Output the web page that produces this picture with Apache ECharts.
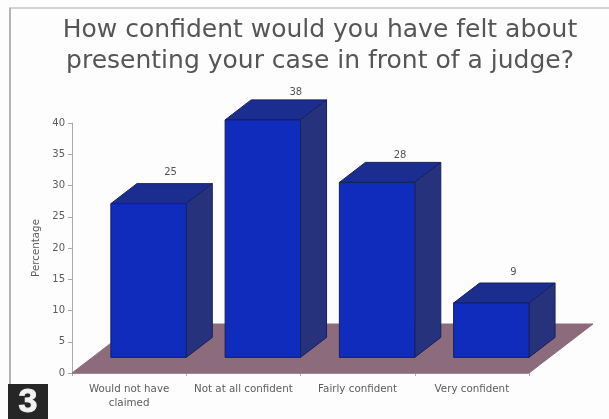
<!DOCTYPE html>
<html><head><meta charset="utf-8">
<style>html,body{margin:0;padding:0;background:#fff}#c{width:609px;height:419px;filter:blur(0.6px)}</style>
<script src="https://cdn.jsdelivr.net/npm/echarts@6/dist/echarts.min.js"></script>
</head><body><div id="c"></div>
<script>
const categories = ['Would not have\nclaimed', 'Not at all confident', 'Fairly confident', 'Very confident'];
const percentages = [24.6, 38, 28, 8.7];
const yTicks = { min: 0, max: 40, step: 5 };
const titleLines = 'How confident would you have felt about\npresenting your case in front of a judge?';
const axisTitle = 'Percentage';

const FRONT = '#0f2cbc', TOP = '#1b2e90', SIDE = '#26327c', EDGE = '#17205f', FLOOR = '#8c6c7c';
const labelNudge = [[-4, -2], [7, 2], [-3, 2], [-4, -2]];

const chart = echarts.init(document.getElementById('c'), null, { renderer: 'canvas' });

function poly(points, fill, stroke) {
  return { type: 'polygon', shape: { points }, style: { fill, stroke: stroke || fill, lineWidth: 1 } };
}
function renderFloor(params, api) {
  const band = api.size([1, 0])[0];
  const unit = api.size([0, 1])[1];
  const dx = band * 0.56, dy = unit * 7.84;
  const a = api.coord([0, 0]), b = api.coord([categories.length - 1, 0]);
  const l = a[0] - band / 2, r = b[0] + band / 2, y = a[1];
  return poly([[l, y], [r, y], [r + dx, y - dy], [l + dx, y - dy]], FLOOR);
}
function renderBar(params, api) {
  const band = api.size([1, 0])[0];
  const unit = api.size([0, 1])[1];
  const c = api.coord([api.value(0), api.value(1)]);
  const w = band * 0.66, dx = band * 0.228, dy = unit * 3.2;
  const r = c[0] + band / 2, l = r - w;
  const lift = unit * 2.5;
  const yb = api.coord([api.value(0), 0])[1] - lift;
  const yt = c[1] - lift;
  const n = labelNudge[params.dataIndex];
  return { type: 'group', children: [
    poly([[l, yt], [r, yt], [r + dx, yt - dy], [l + dx, yt - dy]], TOP, EDGE),
    poly([[r, yt], [r + dx, yt - dy], [r + dx, yb - dy], [r, yb]], SIDE, EDGE),
    poly([[l, yt], [r, yt], [r, yb], [l, yb]], FRONT, EDGE),
    { type: 'text', style: {
        text: String(Math.round(api.value(1))),
        x: (l + r) / 2 + dx + n[0], y: yt - dy - 9 + n[1],
        align: 'center', verticalAlign: 'middle',
        fill: '#555', font: '10px "DejaVu Sans"' } }
  ]};
}
chart.setOption({
  animation: false,
  backgroundColor: '#fdfdfd',
  title: { text: titleLines, left: 315, textAlign: 'center', top: 10,
    textStyle: { fontFamily: '"DejaVu Sans"', fontSize: 25, fontWeight: 'normal', color: '#565656', lineHeight: 31 } },
  grid: { left: 72, right: 80, top: 123, bottom: 46 },
  xAxis: { type: 'category', data: categories,
    axisLine: { lineStyle: { color: '#aaa' } },
    axisTick: { show: true, length: 3, alignWithLabel: false, lineStyle: { color: '#aaa' } },
    axisLabel: { fontFamily: '"DejaVu Sans"', fontSize: 10.3, color: '#5c5c5c', margin: 9, lineHeight: 14, interval: 0 } },
  yAxis: { type: 'value', min: yTicks.min, max: yTicks.max, interval: yTicks.step,
    name: axisTitle, nameLocation: 'middle', nameGap: 26,
    nameTextStyle: { fontFamily: '"DejaVu Sans"', fontSize: 10.3, color: '#5c5c5c' },
    axisLine: { show: true, lineStyle: { color: '#aaa' } },
    axisTick: { show: true, length: 4, lineStyle: { color: '#aaa' } },
    axisLabel: { fontFamily: '"DejaVu Sans"', fontSize: 10, color: '#5c5c5c', margin: 7 },
    splitLine: { show: false } },
  series: [
    { type: 'custom', renderItem: renderFloor, data: [[0, 0]], silent: true, z: 1,
      encode: { x: 0, y: 1 } },
    { type: 'custom', renderItem: renderBar, silent: true, z: 2,
      data: percentages.map((v, i) => [i, v]), encode: { x: 0, y: 1 } }
  ],
  graphic: [
    { type: 'line', shape: { x1: 9, y1: 8, x2: 609, y2: 8 }, style: { stroke: '#c4c4c4', lineWidth: 1.5 } },
    { type: 'line', shape: { x1: 10, y1: 8, x2: 10, y2: 384 }, style: { stroke: '#b4b4b4', lineWidth: 2 } },
    { type: 'rect', shape: { x: 8, y: 384, width: 40, height: 35 }, style: { fill: '#262626' } },
    { type: 'text', style: { text: '3', x: 28, y: 403, align: 'center', verticalAlign: 'middle',
        fill: '#f2f2f2', stroke: '#f2f2f2', lineWidth: 1, font: 'bold 34px "Liberation Sans"' } }
  ]
});
</script></body></html>
